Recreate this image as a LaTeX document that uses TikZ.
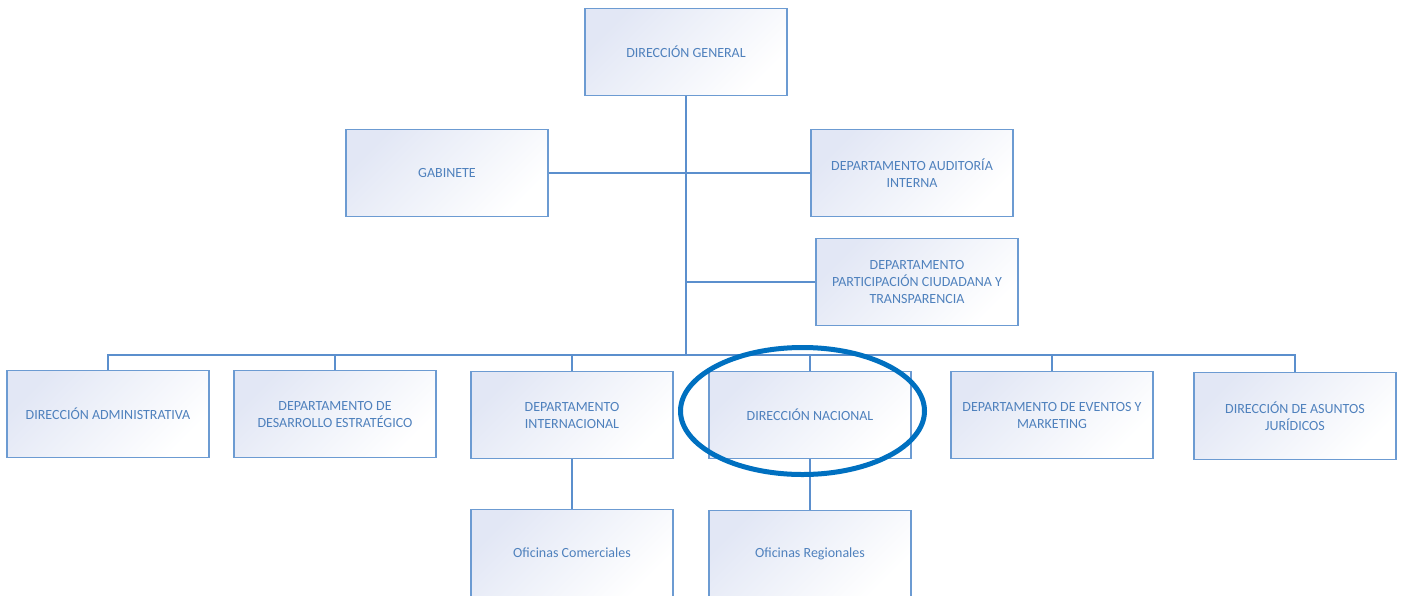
\documentclass[tikz,border=0pt]{standalone}
\usepackage{fontspec}
\setmainfont{Carlito}
\definecolor{boxline}{RGB}{108,155,210}
\definecolor{boxtext}{RGB}{79,129,189}
\definecolor{boxfill}{RGB}{226,231,245}
\definecolor{linkline}{RGB}{91,143,205}
\definecolor{ringblue}{RGB}{0,112,192}
\begin{document}
\begin{tikzpicture}[x=1pt,y=-1pt,
    every node/.style={rectangle,draw=boxline,line width=1.3pt,top color=boxfill,middle color=boxfill!35!white,bottom color=white,shading angle=45,
      minimum width=202pt,minimum height=87pt,inner sep=0pt,align=center,text=boxtext,font=\fontsize{14}{17}\selectfont},
    link/.style={draw=linkline,line width=2pt}]
  \useasboundingbox (0,0) rectangle (1403,595);

  \node (dg)  at (686,52)  {DIRECCIÓN GENERAL};
  \node (gab) at (447,173) {GABINETE};
  \node (aud) at (912,173) {DEPARTAMENTO AUDITORÍA\\INTERNA};
  \node (par) at (917,282) {DEPARTAMENTO\\PARTICIPACIÓN CIUDADANA Y\\TRANSPARENCIA};

  \node (adm) at (108,414)  {DIRECCIÓN ADMINISTRATIVA};
  \node (des) at (335,414)  {DEPARTAMENTO DE\\DESARROLLO ESTRATÉGICO};
  \node (int) at (572,415)  {DEPARTAMENTO\\INTERNACIONAL};
  \node (nac) at (810,415)  {DIRECCIÓN NACIONAL};
  \node (eve) at (1052,415) {DEPARTAMENTO DE EVENTOS Y\\MARKETING};
  \node (jur) at (1295,416) {DIRECCIÓN DE ASUNTOS\\JURÍDICOS};

  \node (com) at (572,553) {Oficinas Comerciales};
  \node (reg) at (810,554) {Oficinas Regionales};

  \coordinate (bus) at (686,355);

  \draw [link] (dg) -- (bus);
  \draw [link] (gab) -- (gab -| dg);
  \draw [link] (aud) -- (aud -| dg);
  \draw [link] (par) -- (par -| dg);
  \draw [link] (adm) |- (bus) -| (jur);
  \draw [link] (des) -- (des |- bus);
  \draw [link] (int) -- (int |- bus);
  \draw [link] (nac) -- (nac |- bus);
  \draw [link] (eve) -- (eve |- bus);
  \draw [link] (int) -- (com);
  \draw [link] (nac) -- (reg);

  % highlight
  \draw [draw=ringblue,line width=5pt] (802.5,411) ellipse [x radius=122, y radius=63.5];
\end{tikzpicture}
\end{document}
